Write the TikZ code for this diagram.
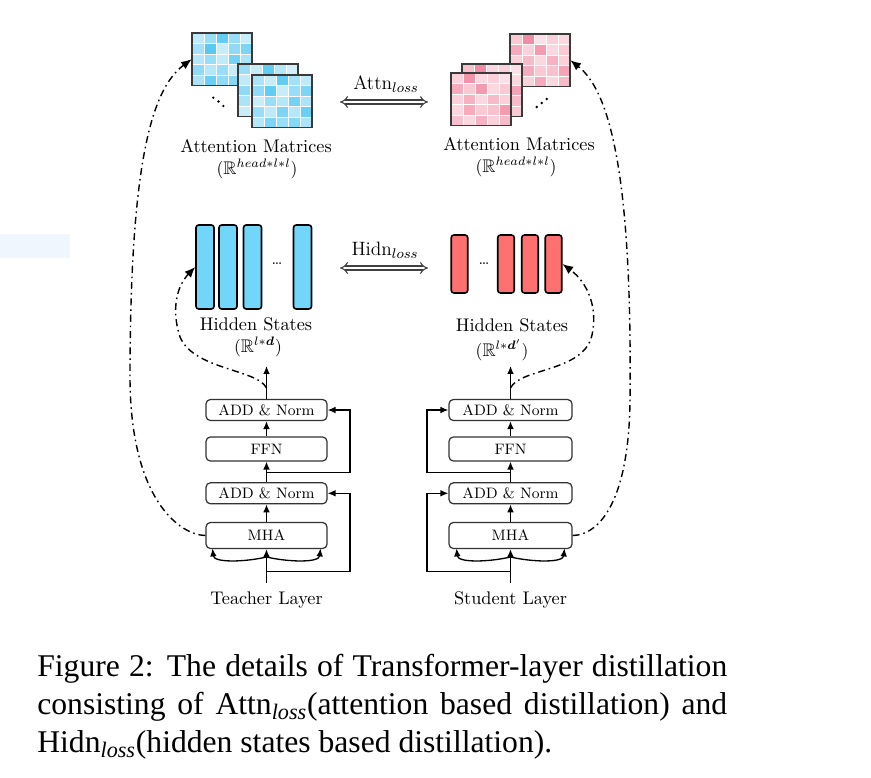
\documentclass[tikz,border=0pt]{standalone}
\usepackage{fontspec}
\usepackage{amsmath,amssymb}
\usetikzlibrary{arrows.meta}
\newfontfamily\capfont{Liberation Serif}
\definecolor{tblue}{HTML}{45C3F2}
\definecolor{spink}{HTML}{EE6585}
\definecolor{hblue}{HTML}{72D5FA}
\definecolor{hred}{HTML}{FF7070}
\definecolor{boxline}{HTML}{333333}
\definecolor{matline}{HTML}{3A3A3A}
\definecolor{lightpanel}{HTML}{EFF6FE}
\newcommand\attmat[4]{%
  \fill[white] (#1,#2) rectangle ++(60,52.5);
  \foreach \v [count=\i from 0] in {#4} {
    \pgfmathtruncatemacro\cc{mod(\i,5)}
    \pgfmathtruncatemacro\rr{\i/5}
    \fill[#3!\v!white] ({#1+\cc*12},{#2+\rr*10.5}) rectangle ++(12,10.5);
  }
  \foreach \k in {1,2,3,4} {
    \draw[white, line width=0.5pt] ({#1+\k*12},#2) -- ++(0,52.5);
    \draw[white, line width=0.5pt] (#1,{#2+\k*10.5}) -- ++(60,0);
  }
  \draw[matline, line width=1.1pt] (#1,#2) rectangle ++(60,52.5);
}
\begin{document}
\begin{tikzpicture}[x=0.02cm,y=-0.02cm,
  lbl/.style={inner sep=0pt, font=\fontsize{10.4}{12}\selectfont},
  blk/.style={draw=boxline, line width=0.7pt, rounded corners=2.5pt, fill=white, inner sep=0pt, font=\fontsize{8.6}{10}\selectfont},
  arr/.style={line width=0.75pt, -{Latex[length=4.5pt,width=3.8pt]}},
  dd/.style={line width=0.8pt, dash pattern=on 4pt off 2.2pt on 0.9pt off 2.2pt, -{Latex[length=6pt,width=5pt]}},
  losse/.style={double=white, draw=black!75, line width=0.6pt, double distance=1.7pt, {Implies}-{Implies}},
  hbar/.style={draw=black, line width=0.9pt, rounded corners=1.5pt, inner sep=0pt},
  dotc/.style={fill=black}
]
\useasboundingbox (0,0) rectangle (871,777);
\fill[lightpanel] (0,234) rectangle (70,258);

% ---------- attention matrices (teacher)
\attmat{192}{33}{tblue}{35,55,85,55,30, 50,90,30,60,70, 40,55,35,75,45, 60,40,55,30,80, 45,80,60,65,40}
\attmat{238}{64}{tblue}{55,30,85,40,25, 35,60,45,70,55, 60,40,70,35,80, 45,75,30,60,40, 30,55,65,45,70}
\attmat{252}{75}{tblue}{45,30,85,50,35, 60,85,30,55,70, 30,55,40,75,45, 55,35,70,40,80, 40,70,55,65,45}
\node[minimum width=1.2cm, minimum height=1.05cm, inner sep=0pt] (tm1) at (222,59.25) {};
\fill[dotc] (213.3,97.7) circle (1.3);
\fill[dotc] (218.5,101.5) circle (1.3);
\fill[dotc] (223.3,106) circle (1.3);

% ---------- attention matrices (student)
\attmat{510}{34}{spink}{35,75,20,30,25, 55,30,65,25,35, 30,45,25,50,30, 25,55,35,40,60, 40,30,55,25,45}
\attmat{462}{64}{spink}{40,75,25,30,20, 55,30,60,35,25, 30,45,25,50,60, 50,35,40,25,45, 25,50,30,55,35}
\attmat{451}{73}{spink}{30,70,25,30,20, 55,35,65,25,35, 30,50,25,45,30, 25,55,35,40,65, 40,25,50,30,45}
\node[minimum width=1.2cm, minimum height=1.05cm, inner sep=0pt] (sm1) at (540,60.25) {};
\fill[dotc] (536.7,107) circle (1.3);
\fill[dotc] (541.7,103) circle (1.3);
\fill[dotc] (546.7,99) circle (1.3);

\node[lbl] (tal) at (256,146) {Attention Matrices};
\node[lbl] (tar) at (257,169) {$(\mathbb{R}^{head*l*l})$};
\node[lbl] (sal) at (519,144) {Attention Matrices};
\node[lbl] (sar) at (516,167) {$(\mathbb{R}^{head*l*l})$};

% loss arrows
\node[lbl, font=\fontsize{11}{13}\selectfont] (attl) at (386,84) {Attn$_{loss}$};
\coordinate (al1) at (340,102);
\coordinate (al2) at (428,102);
\draw[losse] (al1) -- (al2);
\node[lbl, font=\fontsize{11}{13}\selectfont] (hidl) at (385,250) {Hidn$_{loss}$};
\coordinate (hl1) at (340,268);
\coordinate (hl2) at (428,268);
\draw[losse] (hl1) -- (hl2);

% ---------- hidden states
\node[hbar, fill=hblue, minimum width=0.36cm, minimum height=1.68cm] (hb1) at (205,267) {};
\node[hbar, fill=hblue, minimum width=0.36cm, minimum height=1.68cm] (hb2) at (228,267) {};
\node[hbar, fill=hblue, minimum width=0.36cm, minimum height=1.68cm] (hb3) at (252.5,267) {};
\node[hbar, fill=hblue, minimum width=0.36cm, minimum height=1.68cm] (hb4) at (302.5,267) {};
\node[lbl, font=\small] (hdt) at (277,264) {\ldots};
\node[hbar, fill=hred, minimum width=0.33cm, minimum height=1.16cm] (sb1) at (459.5,264) {};
\node[hbar, fill=hred, minimum width=0.33cm, minimum height=1.16cm] (sb2) at (506,264) {};
\node[hbar, fill=hred, minimum width=0.33cm, minimum height=1.16cm] (sb3) at (530,264) {};
\node[hbar, fill=hred, minimum width=0.33cm, minimum height=1.16cm] (sb4) at (553.5,264) {};
\node[lbl, font=\small] (hds) at (484,264) {\ldots};

\node[lbl] (thl) at (256,324) {Hidden States};
\node[lbl] (thr) at (258,347) {$(\mathbb{R}^{l*\boldsymbol{d}})$};
\node[lbl] (shl) at (512,325) {Hidden States};
\node[lbl] (shr) at (502,350) {$(\mathbb{R}^{l*\boldsymbol{d}'})$};

% ---------- teacher layer
\node[blk, minimum width=2.42cm, minimum height=0.42cm] (tadd2) at (266.5,410) {ADD \& Norm};
\node[blk, minimum width=2.42cm, minimum height=0.48cm] (tffn) at (266.5,449) {FFN};
\node[blk, minimum width=2.42cm, minimum height=0.42cm] (tadd1) at (266.5,493.3) {ADD \& Norm};
\node[blk, minimum width=2.42cm, minimum height=0.52cm] (tmha) at (266.5,535.5) {MHA};
\node[lbl] (tlay) at (266.5,600) {Teacher Layer};
\coordinate (tin) at (266.5,583);
\coordinate (tr1) at (266.5,571.7);
\coordinate (tr2) at (266.5,472.3);
\coordinate (tc) at (266.5,557);
\coordinate (tcl) at (212.5,548.5);
\coordinate (tcr) at (320.5,548.5);
\coordinate (ttop) at (266.5,366);
\coordinate (tsplit) at (266.5,388);
\draw[arr] (tin) -- (tmha.south);
\draw[arr] (tc) .. controls (245,562) and (214,563) .. (tcl);
\draw[arr] (tc) .. controls (288,562) and (319,563) .. (tcr);
\draw[arr] (tmha.north) -- (tadd1.south);
\draw[arr] (tadd1.north) -- (tffn.south);
\draw[arr] (tffn.north) -- (tadd2.south);
\draw[arr] (tadd2.north) -- (ttop);
\draw[arr] (tr1) -- ++(83.5,0) |- (tadd1.east);
\draw[arr] (tr2) -- ++(83.5,0) |- (tadd2.east);

% ---------- student layer
\node[blk, minimum width=2.46cm, minimum height=0.42cm] (sadd2) at (510.5,410) {ADD \& Norm};
\node[blk, minimum width=2.46cm, minimum height=0.48cm] (sffn) at (510.5,449) {FFN};
\node[blk, minimum width=2.46cm, minimum height=0.42cm] (sadd1) at (510.5,493.3) {ADD \& Norm};
\node[blk, minimum width=2.46cm, minimum height=0.52cm] (smha) at (510.5,535.5) {MHA};
\node[lbl] (slay) at (510.5,600) {Student Layer};
\coordinate (sin) at (510.5,583);
\coordinate (sr1) at (510.5,571.7);
\coordinate (sr2) at (510.5,472.3);
\coordinate (sc) at (510.5,557);
\coordinate (scl) at (456.5,548.5);
\coordinate (scr) at (564.5,548.5);
\coordinate (stop) at (510.5,366);
\coordinate (ssplit) at (510.5,388);
\draw[arr] (sin) -- (smha.south);
\draw[arr] (sc) .. controls (489,562) and (458,563) .. (scl);
\draw[arr] (sc) .. controls (532,562) and (563,563) .. (scr);
\draw[arr] (smha.north) -- (sadd1.south);
\draw[arr] (sadd1.north) -- (sffn.south);
\draw[arr] (sffn.north) -- (sadd2.south);
\draw[arr] (sadd2.north) -- (stop);
\draw[arr] (sr1) -- ++(-83.5,0) |- (sadd1.west);
\draw[arr] (sr2) -- ++(-83.5,0) |- (sadd2.west);

% ---------- dash-dot connectors
\draw[dd] (tmha.west) .. controls (180,535) and (131,500) .. (130,380) .. controls (130,170) and (150,90) .. (tm1.west);
\draw[dd] (tsplit) .. controls (257,368) and (185,370) .. (178,330) .. controls (172,305) and (178,285) .. (hb1.west);
\draw[dd] (smha.east) .. controls (600,535) and (629,500) .. (630,400) .. controls (632,200) and (615,95) .. (sm1.east);
\draw[dd] (ssplit) .. controls (520,368) and (584,372) .. (592,335) .. controls (598,308) and (588,283) .. (sb4.east);

% ---------- caption
\node[anchor=base west, inner sep=0pt, font=\capfont\fontsize{18}{21}\selectfont] (cap1) at (37,676.5) {\hbox to 13.8cm{Figure 2: The details of Transformer-layer distillation}};
\node[anchor=base west, inner sep=0pt, font=\capfont\fontsize{18}{21}\selectfont] (cap2) at (37,714.5) {\hbox to 13.8cm{consisting of Attn$_{\text{\itshape loss}}$(attention based distillation) and}};
\node[anchor=base west, inner sep=0pt, font=\capfont\fontsize{18}{21}\selectfont] (cap3) at (37,752.5) {Hidn$_{\text{\itshape loss}}$(hidden states based distillation).};
\end{tikzpicture}
\end{document}
